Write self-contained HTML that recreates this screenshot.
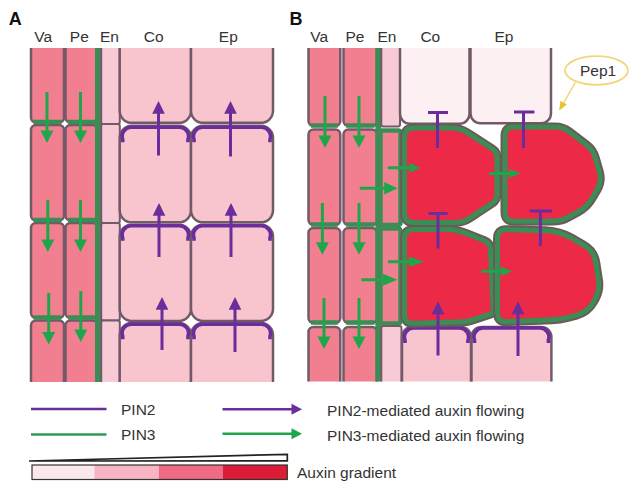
<!DOCTYPE html>
<html><head><meta charset="utf-8"><style>
html,body{margin:0;padding:0;background:#fff;}
svg{display:block;font-family:"Liberation Sans",sans-serif;}
</style></head><body>
<svg width="639" height="499" viewBox="0 0 639 499">
<defs>
<clipPath id="clipA"><rect x="0" y="48" width="285" height="334"/></clipPath>
<clipPath id="clipB"><rect x="285" y="48" width="354" height="333.5"/></clipPath>
</defs>
<rect width="639" height="499" fill="#fff"/>
<g clip-path="url(#clipA)">
<rect x="31" y="20" width="33.00" height="102.50" rx="5" fill="#f27f8f" stroke="#725a68" stroke-width="2.5"/>
<rect x="65.5" y="20" width="32.00" height="102.50" rx="5" fill="#f27f8f" stroke="#725a68" stroke-width="2.5"/>
<rect x="31" y="125" width="33.00" height="95.50" rx="5" fill="#f27f8f" stroke="#725a68" stroke-width="2.5"/>
<rect x="65.5" y="125" width="32.00" height="95.50" rx="5" fill="#f27f8f" stroke="#725a68" stroke-width="2.5"/>
<rect x="31" y="223" width="33.00" height="95.00" rx="5" fill="#f27f8f" stroke="#725a68" stroke-width="2.5"/>
<rect x="65.5" y="223" width="32.00" height="95.00" rx="5" fill="#f27f8f" stroke="#725a68" stroke-width="2.5"/>
<rect x="31" y="320.5" width="33.00" height="99.50" rx="5" fill="#f27f8f" stroke="#725a68" stroke-width="2.5"/>
<rect x="65.5" y="320.5" width="32.00" height="99.50" rx="5" fill="#f27f8f" stroke="#725a68" stroke-width="2.5"/>
<line x1="33.5" y1="122.0" x2="61.5" y2="122.0" stroke="#3c8c55" stroke-width="4.5" stroke-linecap="butt"/>
<line x1="68.0" y1="122.0" x2="95.0" y2="122.0" stroke="#3c8c55" stroke-width="4.5" stroke-linecap="butt"/>
<line x1="33.5" y1="220.0" x2="61.5" y2="220.0" stroke="#3c8c55" stroke-width="4.5" stroke-linecap="butt"/>
<line x1="68.0" y1="220.0" x2="95.0" y2="220.0" stroke="#3c8c55" stroke-width="4.5" stroke-linecap="butt"/>
<line x1="33.5" y1="317.5" x2="61.5" y2="317.5" stroke="#3c8c55" stroke-width="4.5" stroke-linecap="butt"/>
<line x1="68.0" y1="317.5" x2="95.0" y2="317.5" stroke="#3c8c55" stroke-width="4.5" stroke-linecap="butt"/>
<line x1="98" y1="40" x2="98" y2="400" stroke="#3c8c55" stroke-width="6" stroke-linecap="butt"/>
<rect x="101.2" y="20" width="18.60" height="104.00" rx="2" fill="#f7cad5" stroke="#725a68" stroke-width="2"/>
<rect x="101.2" y="124" width="18.60" height="99.00" rx="2" fill="#f7cad5" stroke="#725a68" stroke-width="2"/>
<rect x="101.2" y="223" width="18.60" height="97.50" rx="2" fill="#f7cad5" stroke="#725a68" stroke-width="2"/>
<rect x="101.2" y="320.5" width="18.60" height="99.50" rx="2" fill="#f7cad5" stroke="#725a68" stroke-width="2"/>
<rect x="119.7" y="20" width="71.30" height="102.80" rx="12" fill="#f8c5ce" stroke="#725a68" stroke-width="2.5"/>
<rect x="191" y="20" width="82.00" height="102.80" rx="12" fill="#f8c5ce" stroke="#725a68" stroke-width="2.5"/>
<rect x="119.7" y="125.8" width="71.30" height="96.50" rx="12" fill="#f8c5ce" stroke="#725a68" stroke-width="2.5"/>
<rect x="191" y="125.8" width="82.00" height="96.50" rx="12" fill="#f8c5ce" stroke="#725a68" stroke-width="2.5"/>
<rect x="119.7" y="224.7" width="71.30" height="96.30" rx="12" fill="#f8c5ce" stroke="#725a68" stroke-width="2.5"/>
<rect x="191" y="224.7" width="82.00" height="96.30" rx="12" fill="#f8c5ce" stroke="#725a68" stroke-width="2.5"/>
<rect x="119.7" y="323" width="71.30" height="97.00" rx="12" fill="#f8c5ce" stroke="#725a68" stroke-width="2.5"/>
<rect x="191" y="323" width="82.00" height="97.00" rx="12" fill="#f8c5ce" stroke="#725a68" stroke-width="2.5"/>
<path d="M122.7,142.3 L122.7,139.3 A9,9 0 0 1 131.7,127.3 L179,127.3 A9,9 0 0 1 188,139.3 L188,142.3" fill="none" stroke="#6a2d9b" stroke-width="3.6"/>
<path d="M194,142.3 L194,139.3 A9,9 0 0 1 203,127.3 L261,127.3 A9,9 0 0 1 270,139.3 L270,142.3" fill="none" stroke="#6a2d9b" stroke-width="3.6"/>
<path d="M122.7,240.8 L122.7,237.8 A9,9 0 0 1 131.7,225.8 L179,225.8 A9,9 0 0 1 188,237.8 L188,240.8" fill="none" stroke="#6a2d9b" stroke-width="3.6"/>
<path d="M194,240.8 L194,237.8 A9,9 0 0 1 203,225.8 L261,225.8 A9,9 0 0 1 270,237.8 L270,240.8" fill="none" stroke="#6a2d9b" stroke-width="3.6"/>
<path d="M122.7,339.2 L122.7,336.2 A9,9 0 0 1 131.7,324.2 L179,324.2 A9,9 0 0 1 188,336.2 L188,339.2" fill="none" stroke="#6a2d9b" stroke-width="3.6"/>
<path d="M194,339.2 L194,336.2 A9,9 0 0 1 203,324.2 L261,324.2 A9,9 0 0 1 270,336.2 L270,339.2" fill="none" stroke="#6a2d9b" stroke-width="3.6"/>
<line x1="47" y1="92" x2="47" y2="131.5" stroke="#1fa64b" stroke-width="3" stroke-linecap="butt"/>
<polygon points="40.5,130.5 53.5,130.5 47,143" fill="#1fa64b"/>
<line x1="80.5" y1="92" x2="80.5" y2="131.5" stroke="#1fa64b" stroke-width="3" stroke-linecap="butt"/>
<polygon points="74.0,130.5 87.0,130.5 80.5,143" fill="#1fa64b"/>
<line x1="47.8" y1="200" x2="47.8" y2="240.5" stroke="#1fa64b" stroke-width="3" stroke-linecap="butt"/>
<polygon points="41.3,239.5 54.3,239.5 47.8,252" fill="#1fa64b"/>
<line x1="80.5" y1="200" x2="80.5" y2="240.5" stroke="#1fa64b" stroke-width="3" stroke-linecap="butt"/>
<polygon points="74.0,239.5 87.0,239.5 80.5,252" fill="#1fa64b"/>
<line x1="48.7" y1="293" x2="48.7" y2="333.0" stroke="#1fa64b" stroke-width="3" stroke-linecap="butt"/>
<polygon points="42.2,332.0 55.2,332.0 48.7,344.5" fill="#1fa64b"/>
<line x1="80.8" y1="291" x2="80.8" y2="330.5" stroke="#1fa64b" stroke-width="3" stroke-linecap="butt"/>
<polygon points="74.3,329.5 87.3,329.5 80.8,342" fill="#1fa64b"/>
<line x1="158.5" y1="155.5" x2="158.5" y2="112.8" stroke="#6a2d9b" stroke-width="3" stroke-linecap="butt"/>
<polygon points="152.2,113.8 164.8,113.8 158.5,101" fill="#6a2d9b"/>
<line x1="230.5" y1="156.5" x2="230.5" y2="112.8" stroke="#6a2d9b" stroke-width="3" stroke-linecap="butt"/>
<polygon points="224.2,113.8 236.8,113.8 230.5,101" fill="#6a2d9b"/>
<line x1="159" y1="257" x2="159" y2="214.8" stroke="#6a2d9b" stroke-width="3" stroke-linecap="butt"/>
<polygon points="152.7,215.8 165.3,215.8 159,203" fill="#6a2d9b"/>
<line x1="231" y1="257" x2="231" y2="214.8" stroke="#6a2d9b" stroke-width="3" stroke-linecap="butt"/>
<polygon points="224.7,215.8 237.3,215.8 231,203" fill="#6a2d9b"/>
<line x1="162" y1="350" x2="162" y2="308.8" stroke="#6a2d9b" stroke-width="3" stroke-linecap="butt"/>
<polygon points="155.7,309.8 168.3,309.8 162,297" fill="#6a2d9b"/>
<line x1="235" y1="352" x2="235" y2="308.8" stroke="#6a2d9b" stroke-width="3" stroke-linecap="butt"/>
<polygon points="228.7,309.8 241.3,309.8 235,297" fill="#6a2d9b"/>
</g>
<g clip-path="url(#clipB)">
<rect x="308.5" y="20" width="31.80" height="106.00" rx="5" fill="#f27f8f" stroke="#725a68" stroke-width="2.5"/>
<rect x="343.5" y="20" width="33.50" height="106.00" rx="5" fill="#f27f8f" stroke="#725a68" stroke-width="2.5"/>
<rect x="308.5" y="129.5" width="31.80" height="95.50" rx="5" fill="#f27f8f" stroke="#725a68" stroke-width="2.5"/>
<rect x="343.5" y="129.5" width="33.50" height="95.50" rx="5" fill="#f27f8f" stroke="#725a68" stroke-width="2.5"/>
<rect x="308.5" y="228" width="31.80" height="95.00" rx="5" fill="#f27f8f" stroke="#725a68" stroke-width="2.5"/>
<rect x="343.5" y="228" width="33.50" height="95.00" rx="5" fill="#f27f8f" stroke="#725a68" stroke-width="2.5"/>
<rect x="308.5" y="327" width="31.80" height="93.00" rx="5" fill="#f27f8f" stroke="#725a68" stroke-width="2.5"/>
<rect x="343.5" y="327" width="33.50" height="93.00" rx="5" fill="#f27f8f" stroke="#725a68" stroke-width="2.5"/>
<line x1="311.0" y1="125.5" x2="337.8" y2="125.5" stroke="#3c8c55" stroke-width="4.5" stroke-linecap="butt"/>
<line x1="346.0" y1="125.5" x2="374.5" y2="125.5" stroke="#3c8c55" stroke-width="4.5" stroke-linecap="butt"/>
<line x1="311.0" y1="224.5" x2="337.8" y2="224.5" stroke="#3c8c55" stroke-width="4.5" stroke-linecap="butt"/>
<line x1="346.0" y1="224.5" x2="374.5" y2="224.5" stroke="#3c8c55" stroke-width="4.5" stroke-linecap="butt"/>
<line x1="311.0" y1="322.5" x2="337.8" y2="322.5" stroke="#3c8c55" stroke-width="4.5" stroke-linecap="butt"/>
<line x1="346.0" y1="322.5" x2="374.5" y2="322.5" stroke="#3c8c55" stroke-width="4.5" stroke-linecap="butt"/>
<line x1="378.3" y1="40" x2="378.3" y2="400" stroke="#3c8c55" stroke-width="6" stroke-linecap="butt"/>
<rect x="381.3" y="20" width="18.70" height="106.50" rx="2" fill="#f7cad5" stroke="#725a68" stroke-width="2"/>
<rect x="380.5" y="130.5" width="20.00" height="94.50" rx="2" fill="#f0808f" stroke="#3c8c55" stroke-width="4.5"/>
<rect x="380.5" y="228.5" width="20.00" height="95.00" rx="2" fill="#f0808f" stroke="#3c8c55" stroke-width="4.5"/>
<rect x="381.3" y="326" width="20.20" height="94.00" rx="2" fill="#f7cad5" stroke="#725a68" stroke-width="2"/>
<rect x="400" y="20" width="69.50" height="103.80" rx="10" fill="#fcf0f3" stroke="#725a68" stroke-width="2.5"/>
<rect x="470.5" y="20" width="80.50" height="103.20" rx="10" fill="#fcf0f3" stroke="#725a68" stroke-width="2.5"/>
<rect x="402" y="327" width="69.00" height="93.00" rx="10" fill="#f8c5ce" stroke="#725a68" stroke-width="2.5"/>
<rect x="471.5" y="327" width="79.90" height="93.00" rx="10" fill="#f8c5ce" stroke="#725a68" stroke-width="2.5"/>
<path d="M405,343 L405,340 A9,9 0 0 1 414,328 L459,328 A9,9 0 0 1 468,340 L468,343" fill="none" stroke="#6a2d9b" stroke-width="3.6"/>
<path d="M474.5,343 L474.5,340 A9,9 0 0 1 483.5,328 L539.4,328 A9,9 0 0 1 548.4,340 L548.4,343" fill="none" stroke="#6a2d9b" stroke-width="3.6"/>
<path d="M404.50,137.00 Q404.50,128.00 413.50,128.00 L450.00,128.00 Q460.00,128.00 468.39,133.44 L491.97,148.73 Q497.00,152.00 497.00,158.00 L497.00,194.00 Q497.00,200.00 492.00,203.31 L469.67,218.09 Q463.00,222.50 455.00,222.50 L413.50,222.50 Q404.50,222.50 404.50,213.50 Z" fill="#ec2946" stroke="#6c5a58" stroke-width="9" stroke-linejoin="round"/>
<path d="M404.50,137.00 Q404.50,128.00 413.50,128.00 L450.00,128.00 Q460.00,128.00 468.39,133.44 L491.97,148.73 Q497.00,152.00 497.00,158.00 L497.00,194.00 Q497.00,200.00 492.00,203.31 L469.67,218.09 Q463.00,222.50 455.00,222.50 L413.50,222.50 Q404.50,222.50 404.50,213.50 Z" fill="#ec2946" stroke="#3c8c55" stroke-width="5" stroke-linejoin="round"/>
<path d="M505.00,136.00 Q505.00,127.00 514.00,127.00 L555.00,127.00 Q563.00,127.00 569.35,131.87 L586.65,145.13 Q593.00,150.00 595.23,157.68 L599.21,171.40 Q602.00,181.00 597.00,189.66 L592.00,198.34 Q587.00,207.00 578.20,211.74 L568.04,217.21 Q561.00,221.00 553.00,221.04 L514.00,221.25 Q505.00,221.30 505.00,212.30 Z" fill="#ec2946" stroke="#6c5a58" stroke-width="9" stroke-linejoin="round"/>
<path d="M505.00,136.00 Q505.00,127.00 514.00,127.00 L555.00,127.00 Q563.00,127.00 569.35,131.87 L586.65,145.13 Q593.00,150.00 595.23,157.68 L599.21,171.40 Q602.00,181.00 597.00,189.66 L592.00,198.34 Q587.00,207.00 578.20,211.74 L568.04,217.21 Q561.00,221.00 553.00,221.04 L514.00,221.25 Q505.00,221.30 505.00,212.30 Z" fill="#ec2946" stroke="#3c8c55" stroke-width="5" stroke-linejoin="round"/>
<path d="M404.50,238.50 Q404.50,229.50 413.50,229.50 L446.00,229.50 Q456.00,229.50 465.29,233.19 L484.42,240.79 Q490.00,243.00 490.30,248.99 L493.35,310.00 Q493.50,313.00 490.65,313.95 L471.79,320.24 Q468.00,321.50 464.00,321.63 L413.50,323.22 Q404.50,323.50 404.50,314.50 Z" fill="#ec2946" stroke="#6c5a58" stroke-width="9" stroke-linejoin="round"/>
<path d="M404.50,238.50 Q404.50,229.50 413.50,229.50 L446.00,229.50 Q456.00,229.50 465.29,233.19 L484.42,240.79 Q490.00,243.00 490.30,248.99 L493.35,310.00 Q493.50,313.00 490.65,313.95 L471.79,320.24 Q468.00,321.50 464.00,321.63 L413.50,323.22 Q404.50,323.50 404.50,314.50 Z" fill="#ec2946" stroke="#3c8c55" stroke-width="5" stroke-linejoin="round"/>
<path d="M497.50,238.50 Q497.50,229.50 506.50,229.72 L545.00,230.66 Q559.00,231.00 571.16,237.95 L583.58,245.05 Q594.00,251.00 595.82,262.86 L598.48,280.12 Q600.00,290.00 595.21,298.78 L593.75,301.47 Q588.00,312.00 576.41,315.10 L567.73,317.43 Q560.00,319.50 552.01,319.82 L506.49,321.64 Q497.50,322.00 497.50,313.00 Z" fill="#ec2946" stroke="#6c5a58" stroke-width="9" stroke-linejoin="round"/>
<path d="M497.50,238.50 Q497.50,229.50 506.50,229.72 L545.00,230.66 Q559.00,231.00 571.16,237.95 L583.58,245.05 Q594.00,251.00 595.82,262.86 L598.48,280.12 Q600.00,290.00 595.21,298.78 L593.75,301.47 Q588.00,312.00 576.41,315.10 L567.73,317.43 Q560.00,319.50 552.01,319.82 L506.49,321.64 Q497.50,322.00 497.50,313.00 Z" fill="#ec2946" stroke="#3c8c55" stroke-width="5" stroke-linejoin="round"/>
<line x1="437.5" y1="112.5" x2="437.5" y2="148" stroke="#6a2d9b" stroke-width="3" stroke-linecap="butt"/>
<line x1="428" y1="112.5" x2="448" y2="112.5" stroke="#6a2d9b" stroke-width="3" stroke-linecap="butt"/>
<line x1="523.5" y1="112" x2="523.5" y2="148" stroke="#6a2d9b" stroke-width="3" stroke-linecap="butt"/>
<line x1="514" y1="112" x2="534.4" y2="112" stroke="#6a2d9b" stroke-width="3" stroke-linecap="butt"/>
<line x1="438" y1="213.6" x2="438" y2="248.5" stroke="#6a2d9b" stroke-width="3" stroke-linecap="butt"/>
<line x1="428.5" y1="213.6" x2="447.7" y2="213.6" stroke="#6a2d9b" stroke-width="3" stroke-linecap="butt"/>
<line x1="540.4" y1="211" x2="540.4" y2="246" stroke="#6a2d9b" stroke-width="3" stroke-linecap="butt"/>
<line x1="529.6" y1="211" x2="552" y2="211" stroke="#6a2d9b" stroke-width="3" stroke-linecap="butt"/>
<line x1="325" y1="96" x2="325" y2="136.5" stroke="#1fa64b" stroke-width="3" stroke-linecap="butt"/>
<polygon points="318.5,135.5 331.5,135.5 325,148" fill="#1fa64b"/>
<line x1="359" y1="96" x2="359" y2="136.5" stroke="#1fa64b" stroke-width="3" stroke-linecap="butt"/>
<polygon points="352.5,135.5 365.5,135.5 359,148" fill="#1fa64b"/>
<line x1="322.4" y1="203" x2="322.4" y2="243.2" stroke="#1fa64b" stroke-width="3" stroke-linecap="butt"/>
<polygon points="315.9,242.2 328.9,242.2 322.4,254.7" fill="#1fa64b"/>
<line x1="359" y1="203" x2="359" y2="243.3" stroke="#1fa64b" stroke-width="3" stroke-linecap="butt"/>
<polygon points="352.5,242.3 365.5,242.3 359,254.8" fill="#1fa64b"/>
<line x1="324" y1="298" x2="324" y2="337.5" stroke="#1fa64b" stroke-width="3" stroke-linecap="butt"/>
<polygon points="317.5,336.5 330.5,336.5 324,349" fill="#1fa64b"/>
<line x1="359" y1="298" x2="359" y2="337.5" stroke="#1fa64b" stroke-width="3" stroke-linecap="butt"/>
<polygon points="352.5,336.5 365.5,336.5 359,349" fill="#1fa64b"/>
<line x1="387.8" y1="167.8" x2="410.4" y2="167.8" stroke="#1fa64b" stroke-width="3" stroke-linecap="butt"/>
<polygon points="409.4,162.8 409.4,172.8 420.3,167.8" fill="#1fa64b"/>
<line x1="359.8" y1="188.2" x2="385.2" y2="188.2" stroke="#1fa64b" stroke-width="3" stroke-linecap="butt"/>
<polygon points="384.2,181.89999999999998 384.2,194.5 397.7,188.2" fill="#1fa64b"/>
<line x1="489" y1="173.5" x2="510.4" y2="173.5" stroke="#1fa64b" stroke-width="3" stroke-linecap="butt"/>
<polygon points="509.4,169.0 509.4,178.0 520.4,173.5" fill="#1fa64b"/>
<line x1="388" y1="261.8" x2="410" y2="261.8" stroke="#1fa64b" stroke-width="3" stroke-linecap="butt"/>
<polygon points="409,256.6 409,267.0 424,261.8" fill="#1fa64b"/>
<line x1="361.3" y1="279.7" x2="384" y2="279.7" stroke="#1fa64b" stroke-width="3" stroke-linecap="butt"/>
<polygon points="383,273.7 383,285.7 397.2,279.7" fill="#1fa64b"/>
<line x1="481.3" y1="271.3" x2="502" y2="271.3" stroke="#1fa64b" stroke-width="3" stroke-linecap="butt"/>
<polygon points="501,266.6 501,276.0 512,271.3" fill="#1fa64b"/>
<line x1="438" y1="355.4" x2="438" y2="313.3" stroke="#6a2d9b" stroke-width="3" stroke-linecap="butt"/>
<polygon points="431.7,314.3 444.3,314.3 438,301.5" fill="#6a2d9b"/>
<line x1="518" y1="356" x2="518" y2="313.3" stroke="#6a2d9b" stroke-width="3" stroke-linecap="butt"/>
<polygon points="511.7,314.3 524.3,314.3 518,301.5" fill="#6a2d9b"/>
</g>
<ellipse cx="596.5" cy="70.5" rx="31.5" ry="14.3" fill="#fff" stroke="#f1d77a" stroke-width="1.8"/>
<line x1="575.3" y1="82.5" x2="563.2" y2="103.5" stroke="#eed47a" stroke-width="1.5" stroke-linecap="butt"/>
<polygon points="559.2,110.5 566.9,104.6 560.5,100.8" fill="#e8c232"/>
<text x="8.8" y="24.5" font-size="18" font-weight="bold" fill="#111" text-anchor="start">A</text>
<text x="289.5" y="24.5" font-size="18" font-weight="bold" fill="#111" text-anchor="start">B</text>
<text x="34.2" y="41.8" font-size="15.5" font-weight="normal" fill="#333333" text-anchor="start">Va</text>
<text x="69.8" y="41.8" font-size="15.5" font-weight="normal" fill="#333333" text-anchor="start">Pe</text>
<text x="100" y="41.8" font-size="15.5" font-weight="normal" fill="#333333" text-anchor="start">En</text>
<text x="143.8" y="41.8" font-size="15.5" font-weight="normal" fill="#333333" text-anchor="start">Co</text>
<text x="218.8" y="41.8" font-size="15.5" font-weight="normal" fill="#333333" text-anchor="start">Ep</text>
<text x="310.2" y="41.8" font-size="15.5" font-weight="normal" fill="#333333" text-anchor="start">Va</text>
<text x="345.5" y="41.8" font-size="15.5" font-weight="normal" fill="#333333" text-anchor="start">Pe</text>
<text x="377.4" y="41.8" font-size="15.5" font-weight="normal" fill="#333333" text-anchor="start">En</text>
<text x="420.4" y="41.8" font-size="15.5" font-weight="normal" fill="#333333" text-anchor="start">Co</text>
<text x="494.4" y="41.8" font-size="15.5" font-weight="normal" fill="#333333" text-anchor="start">Ep</text>
<text x="580" y="76" font-size="15.5" font-weight="normal" fill="#333333" text-anchor="start">Pep1</text>
<line x1="31" y1="409" x2="106.5" y2="409" stroke="#6a2d9b" stroke-width="2.5" stroke-linecap="butt"/>
<line x1="31" y1="434.4" x2="106.5" y2="434.4" stroke="#2f9a58" stroke-width="2.5" stroke-linecap="butt"/>
<text x="121" y="415" font-size="15.5" font-weight="normal" fill="#333333" text-anchor="start">PIN2</text>
<text x="121" y="440" font-size="15.5" font-weight="normal" fill="#333333" text-anchor="start">PIN3</text>
<line x1="222.5" y1="409.3" x2="292.5" y2="409.3" stroke="#6a2d9b" stroke-width="2.5" stroke-linecap="butt"/>
<polygon points="291.5,403.8 291.5,414.8 302,409.3" fill="#6a2d9b"/>
<line x1="222.5" y1="433.8" x2="292.5" y2="433.8" stroke="#1fa64b" stroke-width="2.5" stroke-linecap="butt"/>
<polygon points="291.5,428.3 291.5,439.3 302,433.8" fill="#1fa64b"/>
<text x="327" y="416.3" font-size="15.5" font-weight="normal" fill="#333333" text-anchor="start">PIN2-mediated auxin flowing</text>
<text x="327" y="440.5" font-size="15.5" font-weight="normal" fill="#333333" text-anchor="start">PIN3-mediated auxin flowing</text>
<polygon points="29,461 287.3,454.3 287.3,460.8" fill="#fff" stroke="#222" stroke-width="1.7" stroke-linejoin="miter"/>
<rect x="32" y="465" width="62.4" height="14.5" fill="#fbe8ed"/>
<rect x="94.4" y="465" width="64.4" height="14.5" fill="#f7b5c3"/>
<rect x="158.8" y="465" width="64.2" height="14.5" fill="#ef6a82"/>
<rect x="223" y="465" width="64.3" height="14.5" fill="#dc1b37"/>
<rect x="32" y="465" width="255.3" height="14.5" fill="none" stroke="#333" stroke-width="1.2"/>
<text x="297" y="478" font-size="15.5" font-weight="normal" fill="#333333" text-anchor="start">Auxin gradient</text>
</svg>
</body></html>
